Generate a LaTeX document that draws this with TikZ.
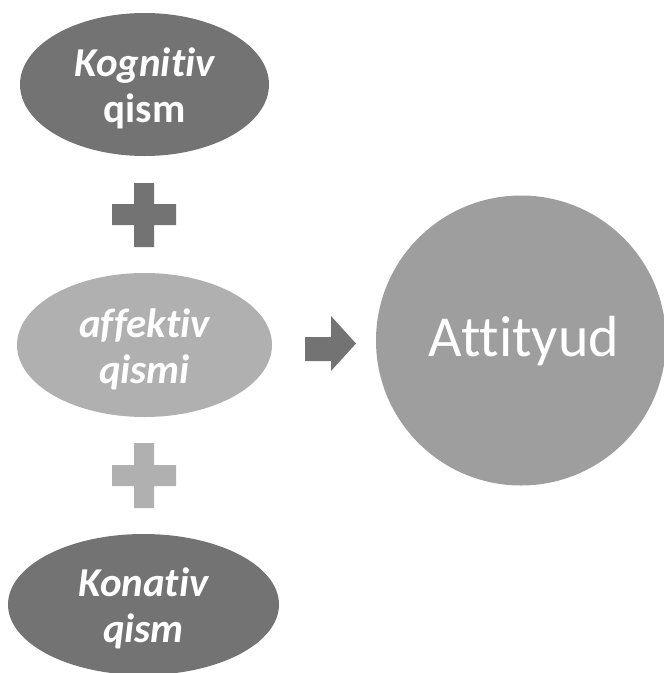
\documentclass[tikz,border=0pt]{standalone}
\usepackage{fontspec}
\setmainfont[Ligatures={NoCommon}]{Carlito}
\usetikzlibrary{shapes.geometric}
\definecolor{dark}{HTML}{737373}
\definecolor{light}{HTML}{B0B0B0}
\definecolor{mid}{HTML}{9E9E9E}
\tikzset{
  oval/.style={ellipse, inner sep=0pt, text=white, align=center, font=\fontsize{41}{46}\selectfont\bfseries},
  ovaltext/.style={text=white, align=center, font=\fontsize{41}{46}\selectfont\bfseries},
}
\begin{document}
\begin{tikzpicture}[x=1pt,y=-1pt]
\useasboundingbox (0,0) rectangle (664,673);
\begin{scope}
\clip (0,0) rectangle (664,673);
\node[oval, fill=dark, minimum width=249, minimum height=143] (kog) at (144.5,84.5) {};
\node[ovaltext] (kogt) at (144.5,88.5) {\itshape Kognitiv\\qism};
\node[oval, fill=light, minimum width=255, minimum height=144] (aff) at (144.5,345) {};
\node[ovaltext] (afft) at (144.5,349) {\itshape affektiv\\\itshape qismi};
\node[oval, fill=dark, minimum width=271, minimum height=141] (kon) at (143.5,604.5) {};
\node[ovaltext] (kont) at (143.5,608.5) {\itshape Konativ\\\itshape qism};
\node[circle, fill=mid, inner sep=0pt, minimum size=290] (att) at (521,340.5) {};
\node[text=white, font=\fontsize{58}{66}\selectfont] (attt) at (524,341.5) {Attityud};
\end{scope}
% plus signs
\fill[dark] (112,204) rectangle (176,225) (134,183) rectangle (154,247);
\fill[light] (112,465) rectangle (176,486) (134,443) rectangle (154,508);
% arrow
\fill[dark] (305,337) -- (331,337) -- (331,316) -- (356,343.5) -- (331,371) -- (331,361) -- (305,361) -- cycle;
\end{tikzpicture}
\end{document}
